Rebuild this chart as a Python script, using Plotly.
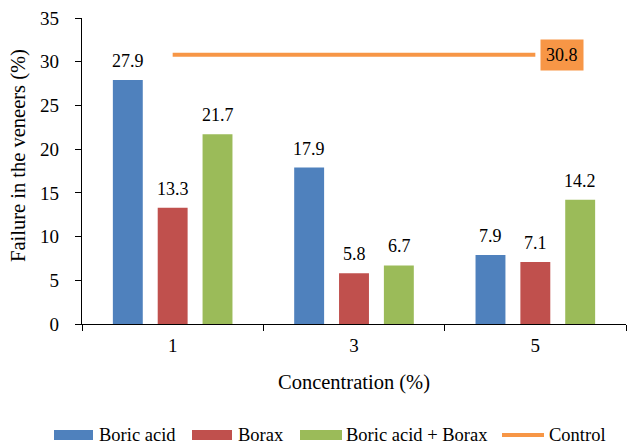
import plotly.graph_objects as go

# Failure in veneers by treatment concentration
concentrations = ["1", "3", "5"]
boric_acid = [27.9, 17.9, 7.9]
borax = [13.3, 5.8, 7.1]
boric_acid_borax = [21.7, 6.7, 14.2]
control = [30.8, 30.8, 30.8]
series_names = ["Boric acid", "Borax", "Boric acid + Borax", "Control"]
y_ticks = [0, 5, 10, 15, 20, 25, 30, 35]
x_title = "Concentration (%)"
y_title = "Failure in the veneers (%)"

COLORS = ["#4F81BD", "#C0504D", "#9BBB59", "#F79646"]
FONT = "'Liberation Serif', 'Times New Roman', Times, serif"
W, H = 627, 446
ML, MR, MT, MB = 82, 1, 18, 122
PW, PH = W - ML - MR, H - MT - MB


def px_x(px):
    return (px - ML) / PW


def px_y(py):
    return (H - MB - py) / PH


fig = go.Figure()
bar_series = [boric_acid, borax, boric_acid_borax]
for name, vals, col in zip(series_names[:3], bar_series, COLORS[:3]):
    fig.add_trace(go.Bar(x=concentrations, y=vals, name=name,
                         marker=dict(color=col, line=dict(width=0)),
                         showlegend=False))

fig.add_trace(go.Scatter(x=concentrations, y=control, name=series_names[3],
                         mode="lines", line=dict(color=COLORS[3], width=4),
                         showlegend=False))

annotations = []
# value labels above each bar (shifted to its slot in the group);
# category positions are given by index on the category axis
slot_shift = [-45, 0, 45]
for vals, shift in zip(bar_series, slot_shift):
    for idx, v in enumerate(vals):
        annotations.append(dict(x=idx, y=v, xref="x", yref="y", text=f"{v}",
                                showarrow=False, xanchor="center", yanchor="bottom",
                                xshift=shift, yshift=7,
                                font=dict(family=FONT, size=18, color="black")))

# control value tag at the end of the line
annotations.append(dict(x=len(control) - 1, y=control[-1], xref="x", yref="y",
                        text=f"{control[-1]}", showarrow=False, xanchor="left",
                        yanchor="middle", xshift=5, bgcolor=COLORS[3], borderpad=5,
                        font=dict(family=FONT, size=18, color="black")))

# y-axis title, set a little above the middle of the axis
annotations.append(dict(x=px_x(19), y=px_y(156), xref="paper", yref="paper",
                        text=y_title, textangle=-90, showarrow=False,
                        xanchor="center", yanchor="middle",
                        font=dict(family=FONT, size=20.5, color="black")))

# legend drawn as wide swatches with labels
shapes = []
leg_y = 435
swatches = [(54, 93), (192, 232), (300, 342), (502, 544)]
text_x = [97, 236, 344, 547]
for i, (name, (x0, x1), tx) in enumerate(zip(series_names, swatches, text_x)):
    if i < 3:
        shapes.append(dict(type="rect", xref="paper", yref="paper",
                           x0=px_x(x0), x1=px_x(x1), y0=px_y(leg_y + 5), y1=px_y(leg_y - 5),
                           fillcolor=COLORS[i], line=dict(width=0)))
    else:
        shapes.append(dict(type="line", xref="paper", yref="paper",
                           x0=px_x(x0), x1=px_x(x1), y0=px_y(leg_y), y1=px_y(leg_y),
                           line=dict(color=COLORS[i], width=4)))
    annotations.append(dict(x=px_x(tx), y=px_y(leg_y), xref="paper", yref="paper",
                            text=name, showarrow=False, xanchor="left", yanchor="middle",
                            font=dict(family=FONT, size=18.5, color="black")))

fig.update_layout(
    width=W, height=H,
    margin=dict(l=ML, r=MR, t=MT, b=MB),
    paper_bgcolor="white", plot_bgcolor="white",
    barmode="group", bargap=0.258, bargroupgap=0.333,
    font=dict(family=FONT, size=18, color="black"),
    annotations=annotations, shapes=shapes,
)
fig.update_xaxes(
    type="category", range=[-0.5, len(concentrations) - 0.5],
    showline=True, linecolor="black", linewidth=1.3,
    ticks="outside", tickson="boundaries", ticklen=6, tickcolor="black",
    ticklabelstandoff=4,
    tickfont=dict(family=FONT, size=19),
    title=dict(text=x_title, font=dict(family=FONT, size=20.5), standoff=19),
    showgrid=False, zeroline=False,
)
fig.update_yaxes(
    range=[0, 35], tickvals=y_ticks, showline=True, linecolor="black", linewidth=1.3,
    ticks="outside", ticklen=6, tickcolor="black",
    ticklabelstandoff=12,
    tickfont=dict(family=FONT, size=19),
    showgrid=False, zeroline=False,
)

fig.write_html("out.html")
